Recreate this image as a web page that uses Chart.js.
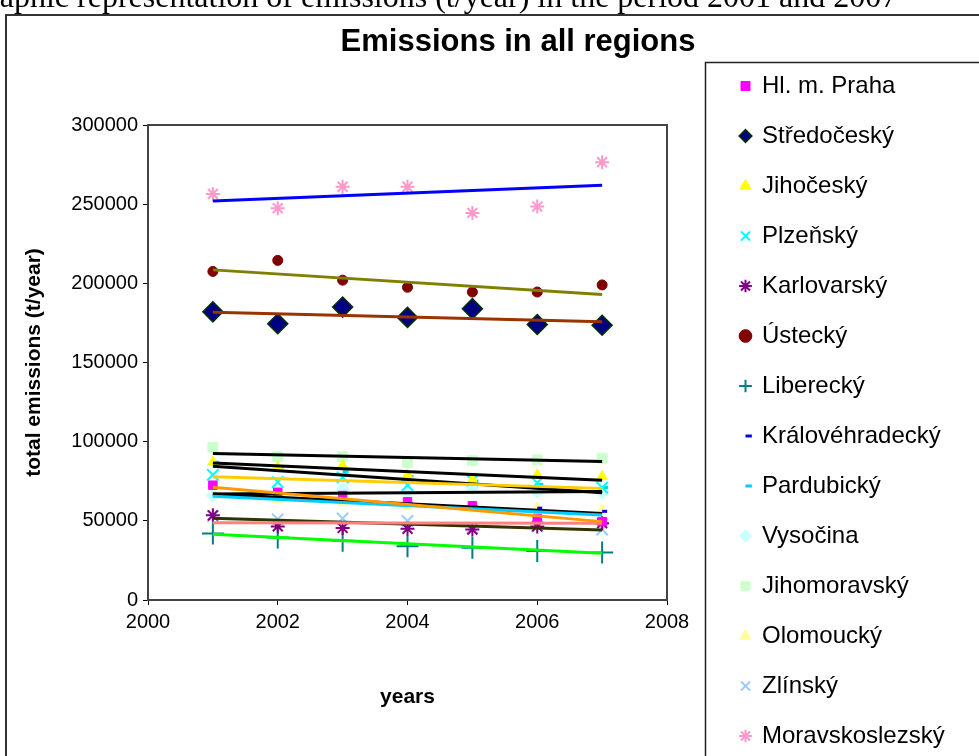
<!DOCTYPE html>
<html>
<head>
<meta charset="utf-8">
<script src="https://cdn.jsdelivr.net/npm/chart.js@4.4.1/dist/chart.umd.min.js"></script>
<style>
  html, body { margin: 0; padding: 0; overflow: hidden; background: #fff; width: 979px; height: 756px; }
  #chart { position: absolute; left: 0; top: 0; }
  #caption { position: absolute; left: -34px; top: -20px; font: 32px "Liberation Serif", "Times New Roman", serif; line-height: 32px; white-space: nowrap; color: #000; }
</style>
</head>
<body>
<canvas id="chart" width="1036" height="790"></canvas>
<div id="caption">Graphic representation of emissions (t/year) in the period 2001 and 2007</div>
<script>
const years = [2001, 2002, 2003, 2004, 2005, 2006, 2007];
const regions = ["Hl. m. Praha", "Středočeský", "Jihočeský", "Plzeňský", "Karlovarský", "Ústecký", "Liberecký",
  "Královéhradecký", "Pardubický", "Vysočina", "Jihomoravský", "Olomoucký", "Zlínský", "Moravskoslezský"];

// total emissions (t/year)
const praha = [72500, 68000, 66000, 62000, 59500, 51500, 49500];
const stredocesky = [182000, 174500, 185000, 178500, 184000, 174000, 173500];
const jihocesky = [87000, 84000, 85000, 79000, 76000, 79000, 78000];
const plzensky = [79000, 74500, 77500, 72500, 75500, 74000, 71000];
const karlovarsky = [53500, 46500, 45500, 45000, 44500, 46500, 48500];
const ustecky = [207500, 214500, 202000, 197500, 194500, 194500, 199000];
const liberecky = [42000, 39500, 37500, 34000, 33000, 31000, 30000];
const kralovehradecky = [66000, 64000, 62000, 61000, 59000, 58000, 56000];
const pardubicky = [87000, 84000, 81000, 78000, 75000, 73000, 71000];
const vysocina = [66000, 67000, 70000, 68500, 71000, 68500, 68000];
const jihomoravsky = [96500, 90500, 90500, 87000, 88000, 88500, 89500];
const olomoucky = [67000, 63500, 61500, 59000, 57500, 58500, 57000];
const zlinsky = [53000, 51000, 51500, 50000, 45500, 46500, 44500];
const moravskoslezsky = [256500, 247500, 261000, 261000, 244500, 248500, 276500];

// trend lines: value at 2001 and at 2007, also
const trendStart = [71200, 181800, 86500, 77900, 48800, 208500, 41500, 65500, 84500, 67000, 92600, 67000, 51600, 252000];
const trendEnd = [49500, 175800, 75600, 70500, 48500, 193000, 29500, 53700, 67800, 68500, 87400, 54700, 44200, 262000];

const series = [praha, stredocesky, jihocesky, plzensky, karlovarsky, ustecky, liberecky,
  kralovehradecky, pardubicky, vysocina, jihomoravsky, olomoucky, zlinsky, moravskoslezsky];

const markers = [
  { color: "#FF00FF", style: "rect", r: 6 },
  { color: "#003300", fill: "#000080", style: "rectRot", r: 10, bw: 1.5 },
  { color: "#FFFF00", style: "triangle", r: 6 },
  { color: "#00FFFF", style: "crossRot", r: 8, bw: 2 },
  { color: "#800080", style: "star", r: 7, bw: 2 },
  { color: "#800000", style: "circle", r: 5 },
  { color: "#008080", style: "cross", r: 11, bw: 2 },
  { color: "#0000FF", style: "dash", r: 5, bw: 3 },
  { color: "#00CCFF", style: "dash", r: 6, bw: 3 },
  { color: "#CCFFFF", style: "rectRot", r: 7 },
  { color: "#CCFFCC", style: "rect", r: 7 },
  { color: "#FFFF99", style: "triangle", r: 6 },
  { color: "#99CCFF", style: "crossRot", r: 8, bw: 2 },
  { color: "#FF99CC", style: "star", r: 7, bw: 2 }
];
const trendColors = ["#FF9900", "#993300", "#000000", "#FFCC00", "#FF8080", "#808000", "#00FF00",
  "#00CCFF", "#000000", "#000000", "#000000", "#000000", "#333300", "#0000FF"];

const datasets = [];
series.forEach((vals, i) => {
  const m = markers[i];
  datasets.push({
    label: regions[i],
    data: years.map((x, j) => ({ x: x, y: vals[j] })),
    pointStyle: m.style,
    pointRadius: m.r,
    pointHoverRadius: m.r,
    backgroundColor: m.fill || m.color,
    borderColor: m.color,
    pointBorderWidth: m.bw || 1,
    order: 2
  });
});
series.forEach((vals, i) => {
  datasets.push({
    label: "trend " + regions[i],
    trend: true,
    data: [{ x: years[0], y: trendStart[i] }, { x: years[years.length - 1], y: trendEnd[i] }],
    showLine: true,
    pointRadius: 0,
    borderColor: trendColors[i],
    borderWidth: 3,
    order: 1
  });
});

// fixed frame like the original office chart
const frame = {
  id: "frame",
  afterInit(chart) {
    const lg = chart.legend;
    const fit = lg.fit;
    lg.fit = function () {
      this.maxHeight = 2000;
      fit.call(this);
      this.width = 364;
    };
  },
  afterLayout(chart) {
    const lg = chart.legend;
    lg.left = 715;
    lg.right = lg.left + 300;
    lg.top = 48;
    lg.bottom = lg.top + 760;
  },
  beforeDraw(chart) {
    const c = chart.ctx;
    c.save();
    c.fillStyle = "#fff";
    c.fillRect(5, 14, 1026, 790);
    c.strokeStyle = "#333";
    c.lineWidth = 2;
    c.strokeRect(6, 15, 1024, 800);
    c.lineWidth = 1.5;
    c.strokeStyle = "#222";
    c.strokeRect(705.5, 62.5, 320, 800);
    c.restore();
  },
  beforeDatasetsDraw(chart) {
    const a = chart.chartArea;
    const c = chart.ctx;
    c.save();
    c.strokeStyle = "#444";
    c.lineWidth = 2;
    c.strokeRect(a.left, a.top, a.right - a.left, a.bottom - a.top);
    c.restore();
  }
};

Chart.defaults.font.family = 'Arial, "Liberation Sans", sans-serif';
Chart.defaults.color = "#000";

new Chart(document.getElementById("chart"), {
  type: "scatter",
  data: { datasets: datasets },
  options: {
    responsive: false,
    animation: false,
    layout: { padding: { left: 5, right: 5, top: 14, bottom: 79 } },
    plugins: {
      title: {
        display: true,
        text: "Emissions in all regions",
        font: { size: 31, weight: "bold" },
        padding: { top: 9.4, bottom: 64.4 }
      },
      legend: {
        position: "right",
        align: "start",
        labels: {
          usePointStyle: true,
          boxWidth: 9,
          boxHeight: 9,
          padding: 26,
          font: { size: 24 },
          filter: (item, data) => !data.datasets[item.datasetIndex].trend
        }
      },
      tooltip: { enabled: false }
    },
    scales: {
      x: {
        type: "linear",
        min: 2000,
        max: 2008,
        afterFit: s => { s.height = 111; },
        ticks: { stepSize: 2, font: { size: 20 }, padding: 5, callback: v => String(v) },
        grid: { drawOnChartArea: false, tickLength: 5, color: "#000" },
        border: { color: "#000", width: 2 },
        title: { display: true, text: "years", font: { size: 21, weight: "bold" }, padding: { top: 0, bottom: 1.4 } }
      },
      y: {
        min: 0,
        max: 300000,
        afterFit: s => { s.width = 143; },
        ticks: { stepSize: 50000, font: { size: 20 }, padding: 5, callback: v => String(v) },
        grid: { drawOnChartArea: false, tickLength: 5, color: "#000" },
        border: { color: "#000", width: 2 },
        title: { display: true, text: "total emissions (t/year)", font: { size: 21, weight: "bold" }, padding: { top: 16.4, bottom: 0 } }
      }
    }
  },
  plugins: [frame]
});
</script>
</body>
</html>
